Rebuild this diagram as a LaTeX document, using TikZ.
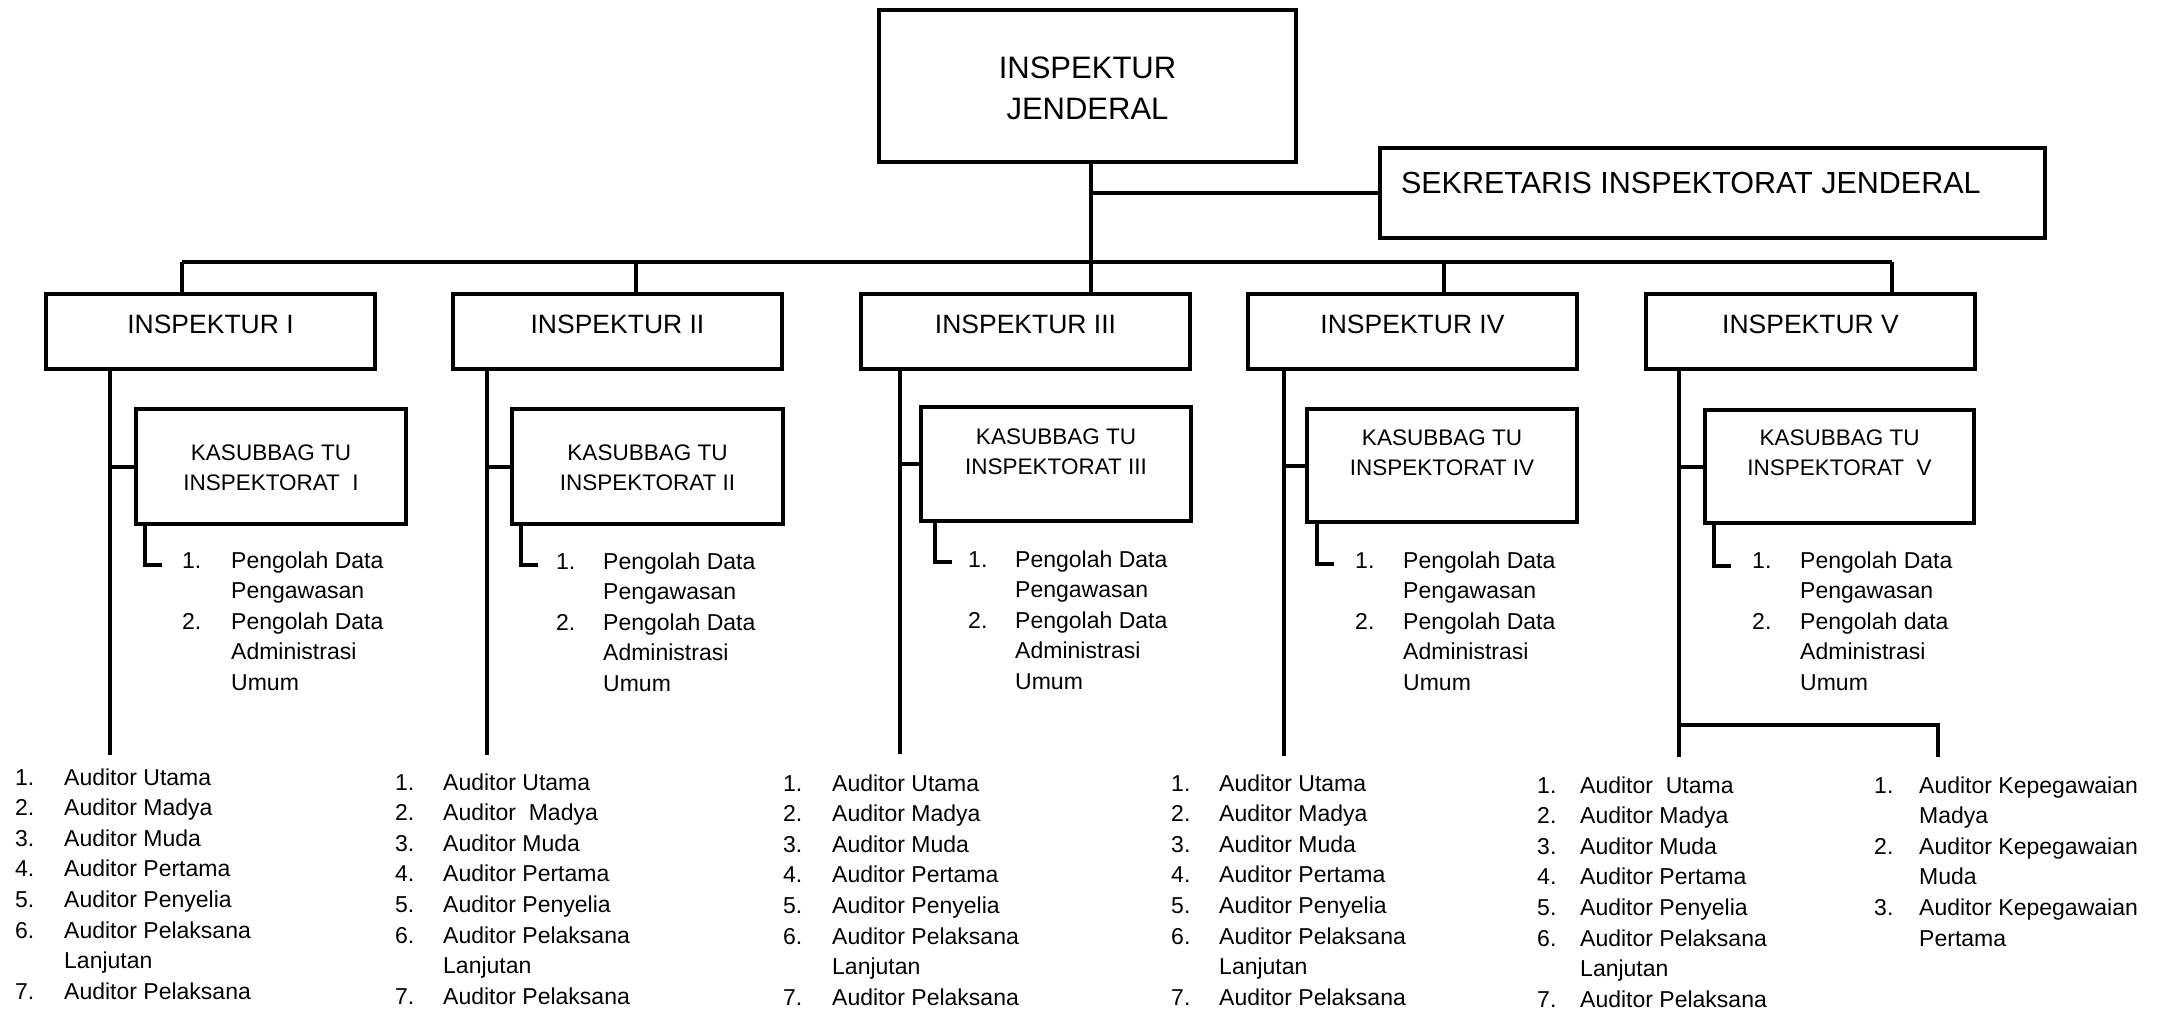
\documentclass[tikz,border=0pt]{standalone}
\usepackage{fontspec}
\setmainfont{Liberation Sans}
\newcommand{\bt}[2]{\raisebox{#1}[0pt][0pt]{\begin{tabular}[t]{@{}c@{}}#2\end{tabular}}}
\newcommand{\nl}[2]{\begin{tabular}[t]{@{}p{#1}@{}l@{}}#2\end{tabular}}
\tikzset{
  box/.style={draw, rectangle, line width=4pt, inner sep=0pt, anchor=north west},
  ln/.style={line width=3.3pt},
  bus/.style={line width=4pt},
  lb/.style={line width=4.2pt, line join=miter},
  ftop/.style={font=\fontsize{31}{41}\selectfont},
  fsek/.style={font=\fontsize{30.5}{40}\selectfont},
  fins/.style={font=\fontsize{26.5}{32}\selectfont},
  fkas/.style={font=\fontsize{22.5}{30.5}\selectfont},
  lst/.style={anchor=base west, inner sep=0pt, font=\fontsize{23}{30.6}\selectfont},
}
\begin{document}
\begin{tikzpicture}[x=1pt, y=-1pt]
\useasboundingbox[fill=white] (0,0) rectangle (2168,1010);

% top level
\node[box, ftop, minimum width=417pt, minimum height=152pt] (ij) at (877,8) {\bt{8pt}{INSPEKTUR\\JENDERAL}};
\node[box, fsek, minimum width=665pt, minimum height=90pt] (sek) at (1378,146)
  {\makebox[623pt][l]{\raisebox{0pt}[0pt][0pt]{SEKRETARIS INSPEKTORAT JENDERAL}}};

% inspektur boxes
\node[box, fins, minimum width=329pt, minimum height=75pt] (in1) at (44,292) {\bt{-2pt}{INSPEKTUR I}};
\node[box, fins, minimum width=329pt, minimum height=75pt] (in2) at (451,292) {\bt{-2pt}{INSPEKTUR II}};
\node[box, fins, minimum width=329pt, minimum height=75pt] (in3) at (859,292) {\bt{-2pt}{INSPEKTUR III}};
\node[box, fins, minimum width=329pt, minimum height=75pt] (in4) at (1246,292) {\bt{-2pt}{INSPEKTUR IV}};
\node[box, fins, minimum width=329pt, minimum height=75pt] (in5) at (1644,292) {\bt{-2pt}{INSPEKTUR V}};

% kasubbag boxes
\node[box, fkas, minimum width=270pt, minimum height=115pt] (ks1) at (134,407) {\bt{6.5pt}{KASUBBAG TU\\INSPEKTORAT\ \ I}};
\node[box, fkas, minimum width=271pt, minimum height=115pt] (ks2) at (510,407) {\bt{6.5pt}{KASUBBAG TU\\INSPEKTORAT II}};
\node[box, fkas, minimum width=270pt, minimum height=114pt] (ks3) at (919,405) {\bt{20pt}{KASUBBAG TU\\INSPEKTORAT III}};
\node[box, fkas, minimum width=270pt, minimum height=113pt] (ks4) at (1305,407) {\bt{20.5pt}{KASUBBAG TU\\INSPEKTORAT IV}};
\node[box, fkas, minimum width=269pt, minimum height=113pt] (ks5) at (1703,408) {\bt{21.5pt}{KASUBBAG TU\\INSPEKTORAT\ \ V}};

% pengolah lists
\node[lst] (p1) at (182,568) {\nl{49pt}{1. & Pengolah Data\\ & Pengawasan\\ 2. & Pengolah Data\\ & Administrasi\\ & Umum}};
\node[lst] (p2) at (556,569) {\nl{47pt}{1. & Pengolah Data\\ & Pengawasan\\ 2. & Pengolah Data\\ & Administrasi\\ & Umum}};
\node[lst] (p3) at (968,567) {\nl{47pt}{1. & Pengolah Data\\ & Pengawasan\\ 2. & Pengolah Data\\ & Administrasi\\ & Umum}};
\node[lst] (p4) at (1355,568) {\nl{48pt}{1. & Pengolah Data\\ & Pengawasan\\ 2. & Pengolah Data\\ & Administrasi\\ & Umum}};
\node[lst] (p5) at (1752,568) {\nl{48pt}{1. & Pengolah Data\\ & Pengawasan\\ 2. & Pengolah data\\ & Administrasi\\ & Umum}};

% auditor lists
\node[lst] (a1) at (15,785) {\nl{49pt}{1. & Auditor Utama\\ 2. & Auditor Madya\\ 3. & Auditor Muda\\ 4. & Auditor Pertama\\ 5. & Auditor Penyelia\\ 6. & Auditor Pelaksana\\ & Lanjutan\\ 7. & Auditor Pelaksana}};
\node[lst] (a2) at (395,790) {\nl{48pt}{1. & Auditor Utama\\ 2. & Auditor\ \ Madya\\ 3. & Auditor Muda\\ 4. & Auditor Pertama\\ 5. & Auditor Penyelia\\ 6. & Auditor Pelaksana\\ & Lanjutan\\ 7. & Auditor Pelaksana}};
\node[lst] (a3) at (783,791) {\nl{49pt}{1. & Auditor Utama\\ 2. & Auditor Madya\\ 3. & Auditor Muda\\ 4. & Auditor Pertama\\ 5. & Auditor Penyelia\\ 6. & Auditor Pelaksana\\ & Lanjutan\\ 7. & Auditor Pelaksana}};
\node[lst] (a4) at (1171,791) {\nl{48pt}{1. & Auditor Utama\\ 2. & Auditor Madya\\ 3. & Auditor Muda\\ 4. & Auditor Pertama\\ 5. & Auditor Penyelia\\ 6. & Auditor Pelaksana\\ & Lanjutan\\ 7. & Auditor Pelaksana}};
\node[lst] (a5) at (1537,793) {\nl{43pt}{1. & Auditor\ \ Utama\\ 2. & Auditor Madya\\ 3. & Auditor Muda\\ 4. & Auditor Pertama\\ 5. & Auditor Penyelia\\ 6. & Auditor Pelaksana\\ & Lanjutan\\ 7. & Auditor Pelaksana}};
\node[lst] (a6) at (1874,793) {\nl{45pt}{1. & Auditor Kepegawaian\\ & Madya\\ 2. & Auditor Kepegawaian\\ & Muda\\ 3. & Auditor Kepegawaian\\ & Pertama}};

% coordinates
\coordinate (tr) at (1091,262);
\coordinate (d1) at (182,262);
\coordinate (d2) at (636,262);
\coordinate (d4) at (1444,262);
\coordinate (d5) at (1892,262);
\coordinate (e1) at (110,755);
\coordinate (e2) at (487,755);
\coordinate (e3) at (900,754);
\coordinate (e4) at (1284,756);
\coordinate (e5) at (1679,725);
\coordinate (e5b) at (1679,757);
\coordinate (k5) at (1938,725);
\coordinate (k5b) at (1938,757);
\coordinate (l1) at (145,565);
\coordinate (l2) at (521,565);
\coordinate (l3) at (935,562);
\coordinate (l4) at (1317,564);
\coordinate (l5) at (1714,566);

% top connectors
\draw[ln] (ij.south -| tr) -- (in3.north -| tr);
\draw[bus] (sek.west) -- (sek.west -| tr);
\draw[bus] (d1) -- (d5);
\draw[ln] (d1) -- (in1.north -| d1);
\draw[ln] (d2) -- (in2.north -| d2);
\draw[ln] (d4) -- (in4.north -| d4);
\draw[ln] (d5) -- (in5.north -| d5);

% inspektur verticals
\draw[ln] (in1.south -| e1) -- (e1);
\draw[ln] (in2.south -| e2) -- (e2);
\draw[ln] (in3.south -| e3) -- (e3);
\draw[ln] (in4.south -| e4) -- (e4);
\draw[ln] (in5.south -| e5) -- (e5b);
\draw[bus] (e5) -- (k5) -- (k5b);

% kasubbag connectors
\draw[bus] (ks1.west) -- (ks1.west -| e1);
\draw[bus] (ks2.west) -- (ks2.west -| e2);
\draw[bus] (ks3.west) -- (ks3.west -| e3);
\draw[bus] (ks4.west) -- (ks4.west -| e4);
\draw[bus] (ks5.west) -- (ks5.west -| e5);

% L brackets
\draw[lb] (ks1.south -| l1) -- (l1) -- ++(17,0);
\draw[lb] (ks2.south -| l2) -- (l2) -- ++(17,0);
\draw[lb] (ks3.south -| l3) -- (l3) -- ++(17,0);
\draw[lb] (ks4.south -| l4) -- (l4) -- ++(17,0);
\draw[lb] (ks5.south -| l5) -- (l5) -- ++(17,0);
\end{tikzpicture}
\end{document}
